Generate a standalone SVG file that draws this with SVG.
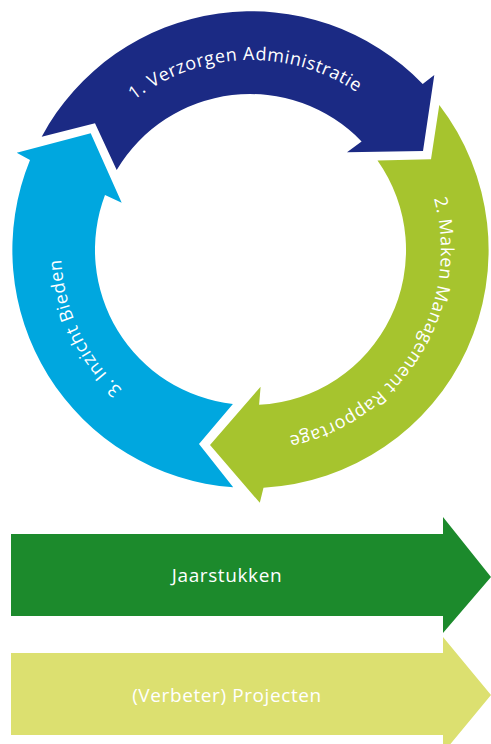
<svg xmlns="http://www.w3.org/2000/svg" xmlns:xlink="http://www.w3.org/1999/xlink" width="491" height="744" viewBox="0 0 491 744">
<style>
.lbl{font-family:"Open Sans","Noto Sans","Liberation Sans",sans-serif;fill:#ffffff;}
.arc{font-size:18px;letter-spacing:0.6px;}
.bar{font-size:19px;letter-spacing:0.6px;}
</style>
<defs>
<path id="t1" d="M61.1,256.6 A190,190 0 0 1 440.9,243.4"/>
<path id="t2" d="M350.3,88 A190,190 0 0 1 151.7,412"/>
<path id="t3" d="M331.3,422.2 A190,190 0 0 1 170.7,77.8"/>
</defs>
<rect width="491" height="744" fill="#ffffff"/>
<g id="step1">
<path fill="#1b2a84" d="M41.7,136.7 A238,238 0 0 1 422.7,84 L434.3,75 L423,151 L347,152.3 L361.6,141.4 A155,155 0 0 0 116.7,170 L95,123.3 Z"/>
<text class="lbl arc"><textPath xlink:href="#t1" startOffset="50%" text-anchor="middle">1. Verzorgen Administratie</textPath></text>
</g>
<g id="step2">
<path fill="#a6c42e" d="M439.3,105 A238,238 0 0 1 263.5,487.7 L259.8,502.8 L210,445 L260.6,386.7 L259.1,404.8 A155,155 0 0 0 377.5,160.4 L431,159.3 Z"/>
<text class="lbl arc"><textPath xlink:href="#t2" startOffset="50%" text-anchor="middle">2. Maken Management Rapportage</textPath></text>
</g>
<g id="step3">
<path fill="#00a7df" d="M233.2,487.3 A238,238 0 0 1 30,160 L16.7,152.7 L90.7,133.3 L121.7,202.7 L105,195 A155,155 0 0 0 232.9,403.9 L199,444.1 Z"/>
<text class="lbl arc"><textPath xlink:href="#t3" startOffset="50%" text-anchor="middle">3. Inzicht Bieden</textPath></text>
</g>
<g id="jaarstukken">
<path fill="#1c8a2c" d="M11,534 L443,534 L443,517 L491,577 L443,633 L443,616 L11,616 Z"/>
<text class="lbl bar" x="227" y="582" text-anchor="middle">Jaarstukken</text>
</g>
<g id="projecten">
<path fill="#dce070" d="M11,653 L443,653 L443,637 L491,695 L443,753 L443,735 L11,735 Z"/>
<text class="lbl bar" x="227" y="702" text-anchor="middle">(Verbeter) Projecten</text>
</g>
<g id="connectors"/>
</svg>
